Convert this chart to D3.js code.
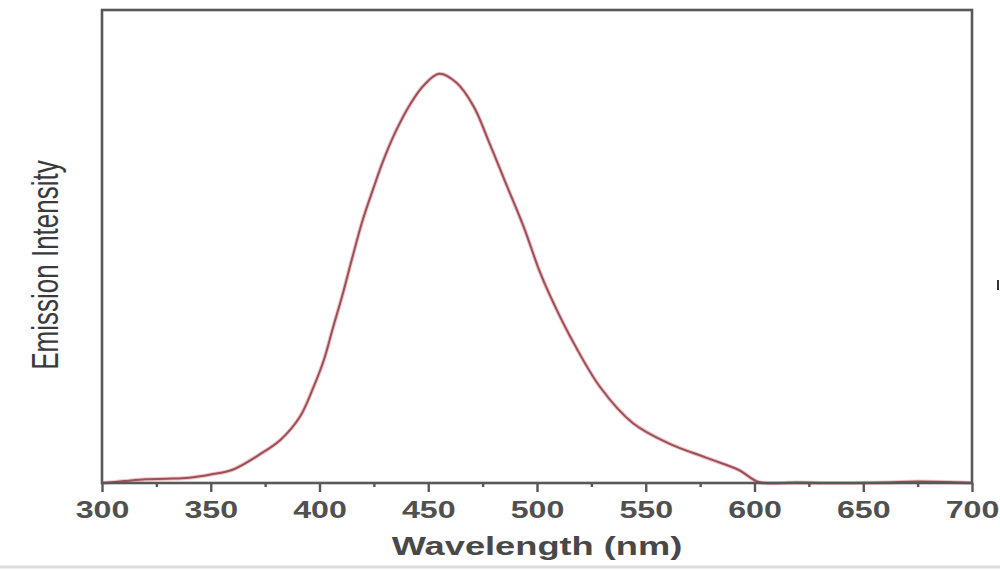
<!DOCTYPE html>
<html>
<head>
<meta charset="utf-8">
<script src="https://cdn.jsdelivr.net/npm/d3@7"></script>
<style>
  html, body { margin: 0; padding: 0; background: #fff; }
  svg { display: block; }
</style>
</head>
<body>
<svg id="chart" width="1000" height="571"></svg>
<script>
// ---- data ----
const wavelengths = [300,310,320,330,340,350,360,372,382,391,397,402,406,411,415,420,425,429,435,442,448,455,463,471,478,486,494,501,506,515,529,544,560,578,593,602,620,640,660,675,700];
const intensity   = [0,0.4,0.8,0.9,1.1,1.8,2.8,5.9,9.1,14,20,26,32.5,40.5,47.5,55.8,62.6,67.8,74.3,80.3,84.1,86.5,84.6,79.5,72,63,54,45,39.6,31.2,20.3,12.7,8.5,5.3,2.7,0.2,0.1,0,0.1,0.3,0];
const majorTicks = [300,350,400,450,500,550,600,650,700];
const minorTicks = [325,375,425,475,525,575,625,675];
const xTitle = "Wavelength (nm)";
const yTitle = "Emission Intensity";

// ---- layout ----
const svg = d3.select("#chart");
const L = 102, R = 972, T = 10, B = 483;
const axisColor = "#585858";
const stretch = 1.4;

const x = d3.scaleLinear().domain([300, 700]).range([L, R]);
const y = d3.scaleLinear().domain([0, 100]).range([B, T]);

// faint page lines
svg.append("line").attr("x1", 0).attr("x2", 1000).attr("y1", 567).attr("y2", 567)
  .attr("stroke", "#dcdcdc").attr("stroke-width", 3);

// curve
const pts = wavelengths.map((w, i) => [w, intensity[i]]);
const line = d3.line().x(d => x(d[0])).y(d => y(d[1])).curve(d3.curveCatmullRom.alpha(0.5));
svg.append("path").datum(pts)
  .attr("d", line)
  .attr("fill", "none")
  .attr("stroke", "#f2c4c8")
  .attr("stroke-width", 4)
  .attr("stroke-linejoin", "round");
svg.append("path").datum(pts)
  .attr("d", line)
  .attr("fill", "none")
  .attr("stroke", "#9a5058")
  .attr("stroke-width", 2)
  .attr("stroke-linejoin", "round");

// frame
svg.append("rect")
  .attr("x", L).attr("y", T).attr("width", R - L).attr("height", B - T)
  .attr("fill", "none").attr("stroke", axisColor).attr("stroke-width", 2.6);

// minor ticks
const minorAxis = svg.append("g").attr("transform", `translate(0,${B})`)
  .call(d3.axisBottom(x).tickValues(minorTicks).tickSize(4).tickFormat(""));
minorAxis.select(".domain").remove();
minorAxis.selectAll("line").attr("stroke", axisColor).attr("stroke-width", 2.4);

// major ticks + labels
const majorAxis = svg.append("g").attr("transform", `translate(0,${B})`)
  .call(d3.axisBottom(x).tickValues(majorTicks).tickSize(9).tickFormat(d3.format("d")));
majorAxis.select(".domain").remove();
majorAxis.selectAll("line").attr("stroke", axisColor).attr("stroke-width", 2.4);
majorAxis.selectAll("text")
  .attr("y", 35).attr("dy", 0)
  .attr("fill", "#505050")
  .attr("font-family", "'Liberation Sans', Arial, sans-serif")
  .attr("font-weight", "bold")
  .attr("font-size", 23)
  .attr("transform", `scale(${stretch},1)`);

// x title
svg.append("text")
  .attr("transform", `translate(${(L + R) / 2},555) scale(1.45,1)`)
  .attr("text-anchor", "middle")
  .attr("fill", "#484848")
  .attr("font-family", "'Liberation Sans', Arial, sans-serif")
  .attr("font-weight", "bold")
  .attr("font-size", 25)
  .text(xTitle);

// y title
svg.append("text")
  .attr("transform", `translate(58,265) scale(${stretch},1) rotate(-90)`)
  .attr("text-anchor", "middle")
  .attr("fill", "#3a3a3a")
  .attr("font-family", "'Liberation Sans', Arial, sans-serif")
  .attr("font-size", 26)
  .text(yTitle);

// small mark at right edge
svg.append("line").attr("x1", 998).attr("x2", 998).attr("y1", 280).attr("y2", 290)
  .attr("stroke", "#333").attr("stroke-width", 2);
</script>
</body>
</html>
